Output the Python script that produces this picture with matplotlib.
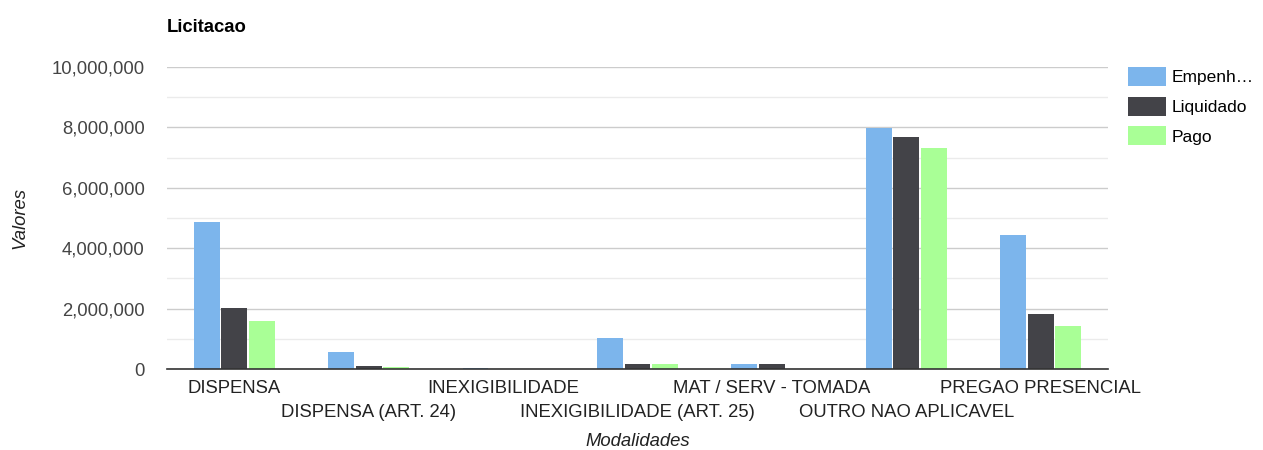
import numpy as np
import matplotlib
matplotlib.use("Agg")
import matplotlib.pyplot as plt
from matplotlib.ticker import FuncFormatter, MultipleLocator

plt.rcParams['font.family'] = ['Liberation Sans', 'DejaVu Sans']

categorias = ["DISPENSA", "DISPENSA (ART. 24)", "INEXIGIBILIDADE",
              "INEXIGIBILIDADE (ART. 25)", "MAT / SERV - TOMADA",
              "OUTRO NAO APLICAVEL", "PREGAO PRESENCIAL"]
empenhado = [4870000, 560000, 20000, 1030000, 150000, 7980000, 4440000]
liquidado = [2020000, 100000, 12000, 150000, 150000, 7680000, 1820000]
pago = [1590000, 70000, 12000, 150000, 10000, 7320000, 1420000]
series = ["Empenh…", "Liquidado", "Pago"]
cores = ["#7cb5ec", "#434348", "#a9ff96"]

fig = plt.figure(figsize=(12.63, 4.5), dpi=100)
ax = fig.add_axes([0.1322, 0.18, 0.7451, 0.6711])

x = np.arange(len(categorias))
w = 0.205
for i, (vals, cor, nome) in enumerate(zip([empenhado, liquidado, pago], cores, series)):
    ax.bar(x + (i - 1) * w, vals, width=w - 0.012, color=cor, label=nome, zorder=3)

ax.set_xlim(-0.5, len(categorias) - 0.5)
ax.set_ylim(0, 10000000)
ax.yaxis.set_major_locator(MultipleLocator(2000000))
ax.yaxis.set_minor_locator(MultipleLocator(1000000))
ax.yaxis.set_major_formatter(FuncFormatter(lambda v, p: f"{int(v):,}"))
ax.grid(axis='y', which='major', color='#cccccc', lw=1, zorder=0)
ax.grid(axis='y', which='minor', color='#ebebeb', lw=1, zorder=0)
for s in ['top', 'right', 'left']:
    ax.spines[s].set_visible(False)
ax.spines['bottom'].set_color('#333333')
ax.spines['bottom'].set_linewidth(1.2)
ax.spines['bottom'].set_zorder(4)

ax.tick_params(axis='y', which='both', length=0, pad=16, labelsize=13.3, labelcolor='#444444')
ax.set_xticks(x)
ax.set_xticklabels([])
ax.tick_params(axis='x', length=0)

# rotulos das categorias em duas linhas alternadas
for i, c in enumerate(categorias):
    dy = -13.7 if i % 2 == 0 else -31
    ax.annotate(c, xy=(x[i], 0), xycoords=('data', 'axes fraction'),
                xytext=(0, dy), textcoords='offset points',
                ha='center', va='center', fontsize=13.3, color='#222222')

ax.set_ylabel("Valores", fontstyle='italic', fontsize=13.3, color='#222222', labelpad=17)
fig.text(0.1322 + 0.7451 / 2, 1 - 442 / 450, "Modalidades", fontstyle='italic',
         fontsize=13.3, color='#222222', ha='center', va='center')
fig.text(0.1322, 0.94, "Licitacao", fontweight='bold', fontsize=13.3, color='#000000', va='center')

ax.legend(loc='upper left', bbox_to_anchor=(1.021, 1.0), frameon=False, fontsize=12.5,
          handlelength=2.2, handleheight=1.3, handletextpad=0.35, labelspacing=0.62,
          borderaxespad=0, borderpad=0)

fig.savefig("out.png", dpi=100)
